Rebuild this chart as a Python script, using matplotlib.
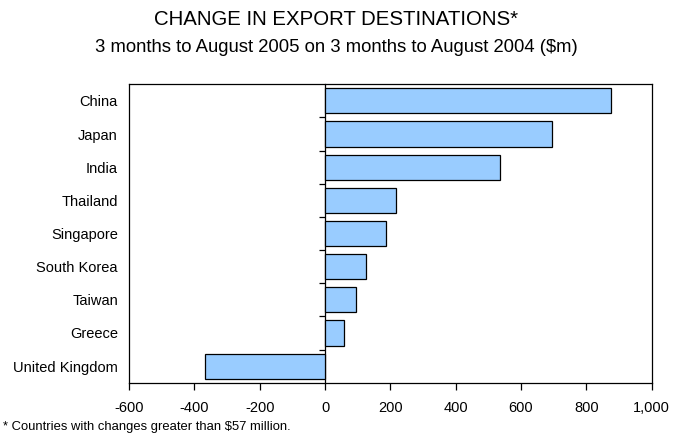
import matplotlib.pyplot as plt
import matplotlib.ticker as ticker
import numpy as np

plt.rcParams['font.family'] = ['Liberation Sans', 'DejaVu Sans']

countries = ["China", "Japan", "India", "Thailand", "Singapore",
             "South Korea", "Taiwan", "Greece", "United Kingdom"]
change = [875, 695, 537, 217, 188, 125, 95, 58, -367]

xmin, xmax = -600, 1000

fig = plt.figure(figsize=(6.73, 4.36), dpi=100)
ax = fig.add_axes([0.1917, 0.1222, 0.9684 - 0.1917, 0.8067 - 0.1222])

ypos = np.arange(len(countries))
ax.barh(ypos, change, height=0.76, color="#99CCFF", edgecolor="black", linewidth=0.9, zorder=2)

ax.set_xlim(xmin, xmax)
ax.set_ylim(len(countries) - 0.5, -0.5)
ax.set_xticks(np.arange(xmin, xmax + 1, 200))
ax.xaxis.set_major_formatter(ticker.FuncFormatter(lambda v, p: f"{int(v):,}"))
ax.set_yticks(ypos)
ax.set_yticklabels(countries)
ax.tick_params(axis='y', length=0, pad=8, labelsize=10.5)
ax.tick_params(axis='x', direction='out', length=5, width=0.9, pad=8, labelsize=10.5)
for s in ax.spines.values():
    s.set_linewidth(0.9)

# vertical axis line at zero with category divider ticks
zero_frac = (0 - xmin) / (xmax - xmin)
sec = ax.secondary_yaxis(zero_frac)
sec.set_yticks(np.arange(0.5, len(countries) - 0.5, 1))
sec.tick_params(axis='y', direction='out', length=4, width=0.9, labelleft=False, labelright=False)
sec.spines['left'].set_linewidth(0.9)

fig.text(0.5, 0.956, "CHANGE IN EXPORT DESTINATIONS*", ha='center', va='center', fontsize=14.7)
fig.text(0.5, 0.892, "3 months to August 2005 on 3 months to August 2004 ($m)", ha='center', va='center', fontsize=13.3)
fig.text(0.004, 0.021, "* Countries with changes greater than $57 million.", ha='left', va='center', fontsize=9.4)

plt.savefig('out.png', dpi=100)
